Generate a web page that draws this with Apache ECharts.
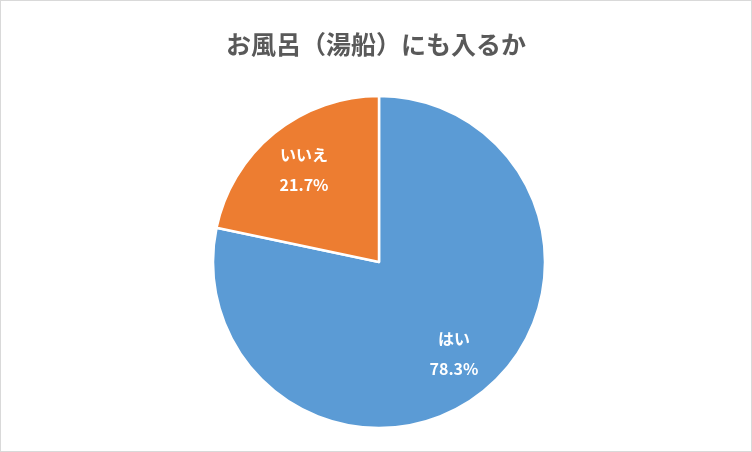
<!DOCTYPE html>
<html><head><meta charset="utf-8">
<script src="https://cdn.jsdelivr.net/npm/echarts@6/dist/echarts.min.js"></script>
<style>
html,body{margin:0;padding:0;background:#fff;}
#c{width:750px;height:450px;border:1px solid #d9d9d9;}
</style></head>
<body><div id="c"></div>
<script>
const titleText = 'お風呂（湯船）にも入るか';
const categories = ['はい', 'いいえ'];
const values = [78.3, 21.7];
const colors = ['#5B9BD5', '#ED7D31'];

const data = categories.map((n, i) => ({ name: n, value: values[i], itemStyle: { color: colors[i] } }));
const font = '"Noto Sans CJK JP", "Noto Sans", sans-serif';
const chart = echarts.init(document.getElementById('c'));
chart.setOption({
  animation: false,
  title: {
    text: titleText, left: 'center', top: 26,
    textStyle: { fontFamily: font, fontSize: 25, fontWeight: 'bold', color: '#595959' }
  },
  series: [
    {
      type: 'pie', center: [378, 261], radius: [0, 166], startAngle: 90, clockwise: true,
      data: data, label: { show: false }, labelLine: { show: false },
      itemStyle: { borderColor: '#fff', borderWidth: 2.5 }
    },
    {
      type: 'pie', center: [378, 261], radius: [0, 232], startAngle: 90, clockwise: true, silent: true,
      data: categories.map((n, i) => ({ name: n, value: values[i], itemStyle: { color: 'transparent' } })),
      itemStyle: { borderWidth: 0 },
      labelLine: { show: false },
      label: {
        show: true, position: 'inside',
        formatter: p => p.name + '\n' + p.value.toFixed(1) + '%',
        color: '#fff', fontFamily: font, fontSize: 16, fontWeight: 'bold', lineHeight: 30
      }
    }
  ]
});
</script></body></html>
